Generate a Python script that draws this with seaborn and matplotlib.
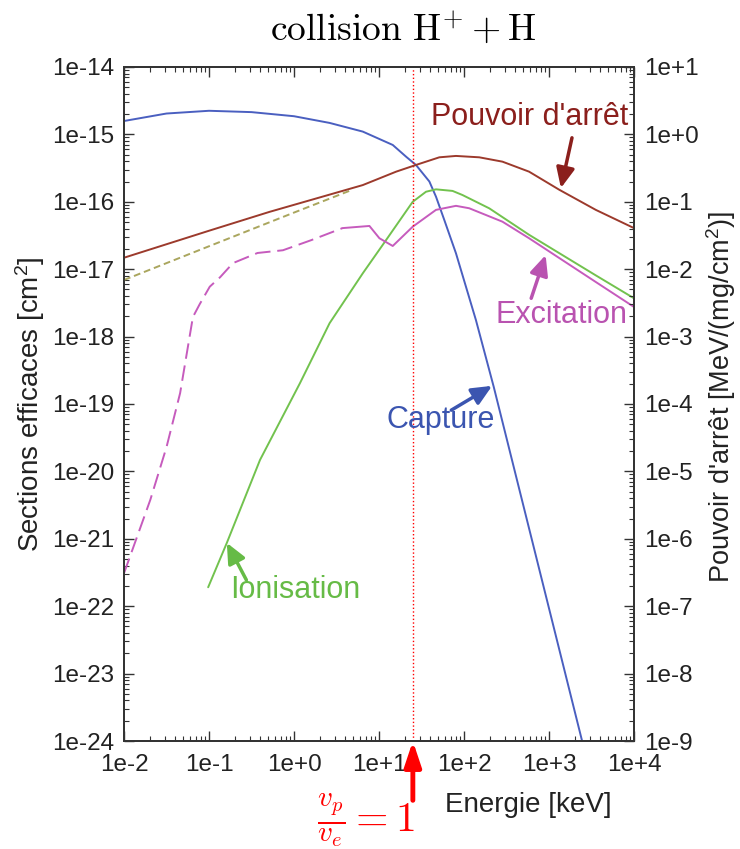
import numpy as np
import matplotlib
matplotlib.use("Agg")
import matplotlib.pyplot as plt
import seaborn as sns
from matplotlib.ticker import LogLocator, NullFormatter

# Data (energy in keV)
capture_E = [0.01, 0.0316, 0.1, 0.316, 1, 2.62, 6.44, 14.5, 20.8, 27.2, 39.1, 46.8, 58.6, 80.4,
             138, 224, 631, 3162]
capture_sigma = [1.58e-15, 2.04e-15, 2.24e-15, 2.14e-15, 1.86e-15, 1.48e-15, 1.10e-15, 6.97e-16,
                 4.67e-16, 3.52e-16, 2.0e-16, 1.19e-16, 5.37e-17, 1.72e-17, 1.76e-18, 1.78e-19,
                 9.5e-22, 2.75e-25]

ionis_E = [0.0977, 0.162, 0.398, 1.175, 2.62, 6.44, 11.04, 24.9, 35.7, 46.8, 73.3, 95.9, 198, 582,
           3548, 10000]
ionis_sigma = [1.91e-22, 8.7e-22, 1.48e-20, 2.04e-19, 1.58e-18, 8.69e-18, 2.29e-17, 1.0e-16,
               1.41e-16, 1.53e-16, 1.45e-16, 1.26e-16, 8.0e-17, 3.24e-17, 8.1e-18, 3.7e-18]

excit_low_E = [0.01, 0.0204, 0.0316, 0.0457, 0.0646, 0.0776, 0.102, 0.135, 0.191, 0.372, 0.741,
               1.585, 3.72]
excit_low_sigma = [3.09e-22, 3.8e-21, 2.29e-20, 1.45e-19, 1.95e-18, 3.02e-18, 5.5e-18, 7.6e-18,
                   1.23e-17, 1.74e-17, 1.91e-17, 2.69e-17, 4.07e-17]
excit_E = [3.72, 7.71, 10.1, 14.5, 24.9, 46.8, 80.4, 115, 283, 582, 3548, 10000]
excit_sigma = [4.07e-17, 4.38e-17, 2.88e-17, 2.21e-17, 4.27e-17, 7.59e-17, 8.71e-17, 8.02e-17,
               5.07e-17, 2.88e-17, 6.46e-18, 2.75e-18]

# stopping power, MeV/(mg/cm2), right axis
stop_E = [0.01, 0.1, 0.513, 2.69, 6.44, 15.9, 27.2, 51.2, 80.4, 151, 283, 582, 1318, 3548, 10000]
stop_S = [0.0148, 0.0372, 0.0708, 0.129, 0.177, 0.280, 0.352, 0.457, 0.479, 0.457, 0.394, 0.280,
          0.151, 0.0759, 0.0407]
stop_low_E = [0.01, 0.1, 1, 4.47]
stop_low_S = [0.00692, 0.0219, 0.0692, 0.145]

E_match = 25  # v_p = v_e

x_ticks = [1e-2, 1e-1, 1e0, 1e1, 1e2, 1e3, 1e4]
x_ticklabels = ["1e-2", "1e-1", "1e+0", "1e+1", "1e+2", "1e+3", "1e+4"]
y_ticks = [10.0 ** k for k in range(-24, -13)]
y_ticklabels = ["1e%d" % k for k in range(-24, -13)]
y2_ticks = [10.0 ** k for k in range(-9, 2)]
y2_ticklabels = ["1e%+d" % k for k in range(-9, 2)]

sns.set_style("ticks")
plt.rcParams["font.family"] = ["Liberation Sans", "DejaVu Sans"]
plt.rcParams["mathtext.fontset"] = "custom"
plt.rcParams["mathtext.rm"] = "Liberation Sans"
plt.rcParams["mathtext.it"] = "Liberation Sans:italic"

TXT = "#222222"
fig = plt.figure(figsize=(7.4, 8.49), dpi=100)
ax = fig.add_axes([0.1676, 0.1272, 0.6892, 0.7939])
ax2 = ax.twinx()

lw = 1.4
sns.lineplot(x=capture_E, y=capture_sigma, ax=ax, color="#4a5fc0", lw=lw, sort=False)
sns.lineplot(x=ionis_E, y=ionis_sigma, ax=ax, color="#72c24e", lw=lw, sort=False)
sns.lineplot(x=excit_low_E, y=excit_low_sigma, ax=ax, color="#c65bbd", lw=lw, sort=False,
             linestyle=(0, (8, 3.5)))
sns.lineplot(x=excit_E, y=excit_sigma, ax=ax, color="#c65bbd", lw=lw, sort=False)
sns.lineplot(x=stop_low_E, y=stop_low_S, ax=ax2, color="#aaa65e", lw=lw, sort=False,
             linestyle=(0, (3.5, 2)))
sns.lineplot(x=stop_E, y=stop_S, ax=ax2, color="#9c3a2c", lw=lw, sort=False)

ax.axvline(E_match, color="red", ls=":", lw=1)

ax.set_xscale("log")
ax.set_yscale("log")
ax2.set_yscale("log")
ax.set_xlim(1e-2, 1e4)
ax.set_ylim(1e-24, 1e-14)
ax2.set_ylim(1e-9, 1e1)

ax.set_xticks(x_ticks, labels=x_ticklabels)
ax.set_yticks(y_ticks, labels=y_ticklabels)
ax2.set_yticks(y2_ticks, labels=y2_ticklabels)
for a in (ax.xaxis, ax.yaxis, ax2.yaxis):
    a.set_minor_locator(LogLocator(base=10, subs=np.arange(2, 10), numticks=100))
    a.set_minor_formatter(NullFormatter())

ax.tick_params(which="both", direction="in", top=True, right=False, color="#333333",
               labelsize=17.5, labelcolor=TXT)
ax.tick_params(which="major", length=7, width=1)
ax.tick_params(which="minor", length=3.5, width=0.8)
ax.tick_params(axis="x", pad=9)
ax.tick_params(axis="y", pad=7)
ax2.tick_params(which="both", direction="in", color="#333333", labelsize=17.5, labelcolor=TXT, pad=7)
ax2.tick_params(which="major", length=7, width=1)
ax2.tick_params(which="minor", length=3.5, width=0.8)
for a in (ax, ax2):
    for s in a.spines.values():
        s.set_color("#333333")
        s.set_linewidth(1.3)

ax.set_xlabel("Energie [keV]", fontsize=20, color=TXT, va="center")
ax.xaxis.set_label_coords(0.792, -0.095)
ax.set_ylabel("Sections efficaces [cm$^2$]", fontsize=20, color=TXT, va="center")
ax.yaxis.set_label_coords(-0.184, 0.5)
ax2.set_ylabel("Pouvoir d'arrêt [MeV/(mg/cm$^2$)]", fontsize=19.5, color=TXT, va="center",
               rotation=90)
ax2.yaxis.set_label_coords(1.171, 0.51)

# curve labels and arrows
def label(text, xy, color, tail, head):
    ax.text(xy[0], xy[1], text, color=color, fontsize=22, ha="center", va="center")
    ax.annotate("", xy=head, xytext=tail,
                arrowprops=dict(arrowstyle="-|>,head_length=0.55,head_width=0.25",
                                color=color, lw=2.5, mutation_scale=22, shrinkA=0, shrinkB=0))

label("Pouvoir d'arrêt", (589, 1.82e-15), "#8b1f1c", (1862, 8.9e-16), (1380, 1.6e-16))
label("Excitation", (1413, 2.1e-18), "#b953b0", (617, 3.7e-18), (912, 1.62e-17))
label("Capture", (53.7, 5.75e-20), "#3b55b0", (70.8, 8.1e-20), (214, 1.86e-19))
label("Ionisation", (1.02, 1.74e-22), "#66bb46", (0.275, 2.45e-22), (0.162, 8.7e-22))

# v_p = v_e marker below the axis
ax.annotate("", xy=(E_match, 0), xycoords=("data", "axes fraction"),
            xytext=(E_match, -0.088), textcoords=("data", "axes fraction"),
            arrowprops=dict(arrowstyle="-|>,head_length=0.6,head_width=0.2", color="red",
                            lw=3.5, mutation_scale=25, shrinkA=0, shrinkB=0),
            annotation_clip=False)
fig.text(366 / 740, 1 - 820 / 849, r"$\frac{v_p}{v_e} = 1$", color="red", fontsize=30,
         math_fontfamily="cm", ha="center", va="center")

fig.text(403 / 740, 1 - 30 / 849, r"$\mathrm{collision\ H^{+} + H}$", fontsize=27,
         math_fontfamily="cm", ha="center", va="center", color="black")

fig.savefig("out.png", dpi=100)
